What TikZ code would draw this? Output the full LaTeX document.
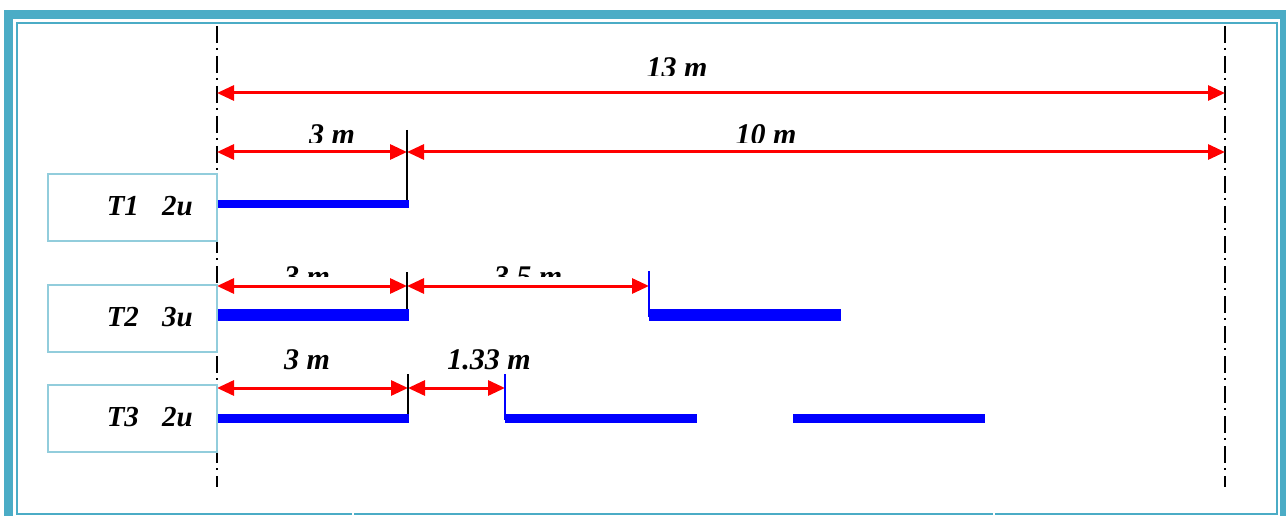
\documentclass[tikz,border=0pt]{standalone}
\usepackage{fontspec}
\setmainfont{Liberation Serif}
\usetikzlibrary{arrows.meta}
\definecolor{frameteal}{HTML}{4BACC6}
\definecolor{boxblue}{HTML}{92CDDC}
\begin{document}
\begin{tikzpicture}[x=1pt,y=-1pt,
  dim/.style={draw=red,line width=3pt,{Triangle[length=17pt 0,width=15pt 0]}-{Triangle[length=17pt 0,width=15pt 0]}},
  axisline/.style={draw=black,line width=2pt,dash pattern=on 17pt off 5pt on 2pt off 6pt},
  tick/.style={draw=black,line width=2pt},
  bluetick/.style={draw=blue,line width=1.6pt},
  bar/.style={draw=blue,line width=#1},
  tbox/.style={draw=boxblue,line width=2pt,fill=white,minimum width=169pt,minimum height=67pt,inner sep=0pt},
  tlabel/.style={font=\fontsize{29}{29}\selectfont\bfseries\itshape,inner sep=0pt,anchor=base east},
  dlabel/.style={font=\fontsize{30}{30}\selectfont\bfseries\itshape,inner sep=0pt,anchor=base}]
\useasboundingbox (0,0) rectangle (1286,516);
\clip (0,0) rectangle (1286,516);
% frame
\draw[frameteal,line width=9pt] (8.5,15) rectangle (1284.5,521);
\draw[frameteal,line width=2pt] (16.5,23.5) rectangle (1276.5,514);
\draw[white,line width=2pt] (353,509) -- (353,516);
\draw[white,line width=2pt] (994,509) -- (994,516);
% vertical reference lines
\coordinate (vltop) at (217,26);
\coordinate (vlbot) at (217,487);
\coordinate (vrtop) at (1225,26);
\coordinate (vrbot) at (1225,487);
\draw[axisline] (vltop) -- (vlbot);
\draw[axisline] (vrtop) -- (vrbot);
% row A : 13 m
\coordinate (a0) at (217,93);
\coordinate (a1) at (1225,93);
\draw[dim] (a0) -- (a1);
\begin{scope}
\clip (500,40) rectangle (900,75.5);
\node[dlabel] (l13) at (677,78) {13 m};
\end{scope}
% row B : 3 m + 10 m
\coordinate (b0) at (217,152);
\coordinate (b1) at (407,152);
\coordinate (b2) at (1225,152);
\draw[dim] (b0) -- (b1);
\draw[dim] (b1) -- (b2);
\begin{scope}
\clip (250,100) rectangle (900,142.5);
\node[dlabel] (l3a) at (332,145) {3 m};
\node[dlabel] (l10) at (766,145) {10 m};
\end{scope}
\coordinate (t1a) at (407,130);
\coordinate (t1b) at (407,207.7);
\draw[tick] (t1a) -- (t1b);
% T1
\coordinate (p1a) at (217,204);
\coordinate (p1b) at (409,204);
\draw[bar=7.5pt] (p1a) -- (p1b);
\node[tbox] (box1) at (132.5,207.5) {};
\node[tlabel] (txt1) at (193,215) {T1\hspace{0.8em}2u};
% row T2
\coordinate (c0) at (217,286);
\coordinate (c1) at (407,286);
\coordinate (c2) at (649,286);
\draw[dim] (c0) -- (c1);
\draw[dim] (c1) -- (c2);
\begin{scope}
\clip (250,240) rectangle (650,276);
\node[dlabel] (l3b) at (307,286) {3 m};
\node[dlabel] (l35) at (528,286) {3.5 m};
\end{scope}
\coordinate (t2a) at (407,272);
\coordinate (t2b) at (407,318);
\draw[tick] (t2a) -- (t2b);
\coordinate (u2a) at (649,271);
\coordinate (u2b) at (649,317);
\draw[bluetick] (u2a) -- (u2b);
\coordinate (p2a) at (217,315);
\coordinate (p2b) at (409,315);
\coordinate (p2c) at (649,315);
\coordinate (p2d) at (841,315);
\draw[bar=12pt] (p2a) -- (p2b);
\draw[bar=12pt] (p2c) -- (p2d);
\node[tbox] (box2) at (132.5,318.5) {};
\node[tlabel] (txt2) at (193,326) {T2\hspace{0.8em}3u};
% row T3
\coordinate (d0) at (217,388);
\coordinate (d1) at (408,388);
\coordinate (d2) at (505,388);
\draw[dim] (d0) -- (d1);
\draw[dim] (d1) -- (d2);
\node[dlabel] (l3c) at (307,369) {3 m};
\node[dlabel] (l133) at (489,369) {1.33 m};
\coordinate (t3a) at (408,374);
\coordinate (t3b) at (408,420);
\draw[tick] (t3a) -- (t3b);
\coordinate (u3a) at (505,374);
\coordinate (u3b) at (505,420);
\draw[bluetick] (u3a) -- (u3b);
\coordinate (p3a) at (217,418.5);
\coordinate (p3b) at (409,418.5);
\coordinate (p3c) at (505,418.5);
\coordinate (p3d) at (697,418.5);
\coordinate (p3e) at (793,418.5);
\coordinate (p3f) at (985,418.5);
\draw[bar=8.5pt] (p3a) -- (p3b);
\draw[bar=8.5pt] (p3c) -- (p3d);
\draw[bar=8.5pt] (p3e) -- (p3f);
\node[tbox] (box3) at (132.5,418.5) {};
\node[tlabel] (txt3) at (193,426) {T3\hspace{0.8em}2u};
\end{tikzpicture}
\end{document}
